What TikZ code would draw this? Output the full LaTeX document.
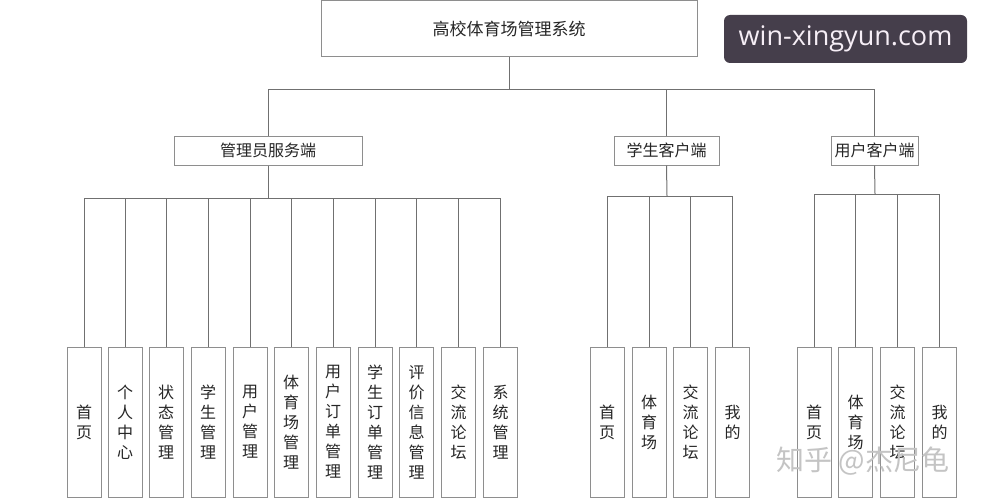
\documentclass[tikz,border=0pt]{standalone}
\usepackage{fontspec}
\setmainfont{Noto Sans CJK SC}
\newfontfamily\badgefont{Open Sans}
\definecolor{boxline}{HTML}{8E8E8E}
\definecolor{connline}{HTML}{707070}
\definecolor{badgebg}{HTML}{453E4B}
\definecolor{badgetext}{HTML}{F6EEF6}
\definecolor{wmgray}{HTML}{C4C4C4}
\begin{document}
\begin{tikzpicture}[x=1pt,y=-1pt,
  box/.style={draw=boxline, line width=1pt, inner sep=0pt, fill=white, text=black!85,
    font=\fontsize{16}{20}\selectfont},
  leaf/.style={box, minimum width=34pt, minimum height=150pt, align=center},
  conn/.style={draw=connline, line width=1pt}]
\useasboundingbox (0,0) rectangle (981,500);
% connectors first
\coordinate (tbus) at (509,90);
\coordinate (abus) at (268,198);
\coordinate (sbus) at (667,196);
\coordinate (ubus) at (875,194);
% nodes
\node[box, minimum width=376pt, minimum height=56pt, font=\fontsize{17}{20}\selectfont] (root) at (509,29) {高校体育场管理系统};
\node[box, minimum width=188pt, minimum height=29pt] (admin) at (268,150.5) {管理员服务端};
\node[box, minimum width=105pt, minimum height=29pt] (stu) at (666.5,150.5) {学生客户端};
\node[box, minimum width=87pt, minimum height=29pt] (usr) at (874.5,150.5) {用户客户端};
% admin leaves
\node[leaf] (a1) at (84,422) {首\\页};
\node[leaf] (a2) at (125,422) {个\\人\\中\\心};
\node[leaf] (a3) at (166,422) {状\\态\\管\\理};
\node[leaf] (a4) at (208,422) {学\\生\\管\\理};
\node[leaf] (a5) at (250,422) {用\\户\\管\\理};
\node[leaf] (a6) at (291,422) {体\\育\\场\\管\\理};
\node[leaf] (a7) at (333,422) {用\\户\\订\\单\\管\\理};
\node[leaf] (a8) at (375,422) {学\\生\\订\\单\\管\\理};
\node[leaf] (a9) at (416.5,422) {评\\价\\信\\息\\管\\理};
\node[leaf] (a10) at (458.5,422) {交\\流\\论\\坛};
\node[leaf] (a11) at (500.5,422) {系\\统\\管\\理};
% student leaves
\node[leaf] (s1) at (607,422) {首\\页};
\node[leaf] (s2) at (649,422) {体\\育\\场};
\node[leaf] (s3) at (690.5,422) {交\\流\\论\\坛};
\node[leaf] (s4) at (732.5,422) {我\\的};
% user leaves
\node[leaf] (u1) at (814,422) {首\\页};
\node[leaf] (u2) at (855.5,422) {体\\育\\场};
\node[leaf] (u3) at (897.5,422) {交\\流\\论\\坛};
\node[leaf] (u4) at (939.5,422) {我\\的};
% top level connectors
\draw[conn] (root.south) -- (tbus);
\draw[conn] (admin.north) -- (admin.north |- tbus) -- (usr.north |- tbus) -- (usr.north);
\draw[conn] (stu.north) -- (stu.north |- tbus);
% admin connectors
\draw[conn] (admin.south) -- (abus);
\draw[conn] (a1.north |- abus) -- (a11.north |- abus);
\foreach \n in {a1,a2,a3,a4,a5,a6,a7,a8,a9,a10,a11}
  \draw[conn] (\n.north) -- (\n.north |- abus);
% student connectors
\draw[conn] (stu.south) -- (sbus);
\draw[conn] (s1.north |- sbus) -- (s4.north |- sbus);
\foreach \n in {s1,s2,s3,s4}
  \draw[conn] (\n.north) -- (\n.north |- sbus);
% user connectors
\draw[conn] (usr.south) -- (ubus);
\draw[conn] (u1.north |- ubus) -- (u4.north |- ubus);
\foreach \n in {u1,u2,u3,u4}
  \draw[conn] (\n.north) -- (\n.north |- ubus);
% watermarks
\node[text=wmgray, font=\fontsize{28}{28}\selectfont, inner sep=0pt] (wm) at (863,461) {知乎 @杰尼龟};
\node[fill=badgebg, rounded corners=6pt, minimum width=243pt, minimum height=48pt, inner sep=0pt,
  text=badgetext, font=\badgefont\fontsize{27}{27}\selectfont] (badge) at (845.5,39) {win-xingyun.com};
\end{tikzpicture}
\end{document}
